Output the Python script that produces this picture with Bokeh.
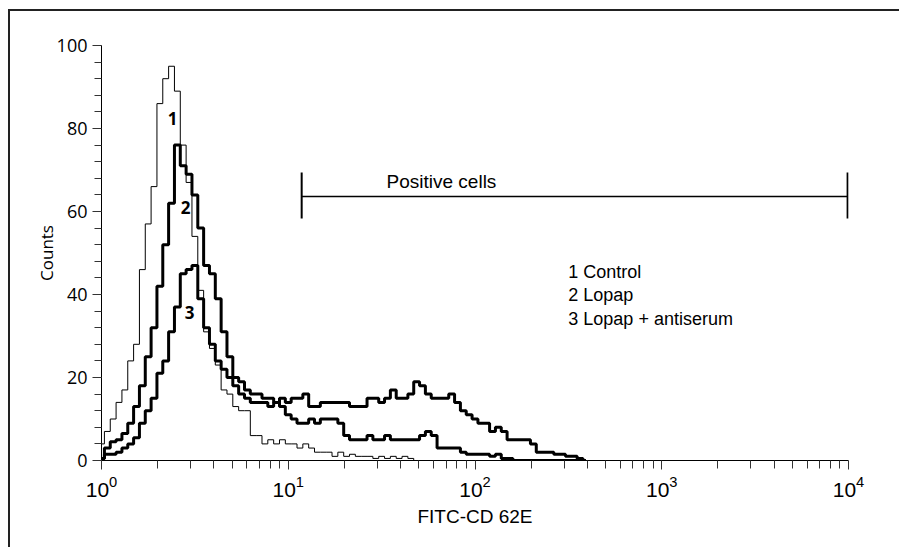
from bokeh.plotting import figure
from bokeh.models import Range1d, FixedTicker, LogTickFormatter
from bokeh.core.properties import value
from bokeh.embed import file_html
from bokeh.resources import INLINE

# ---------------- data ----------------
CHANNELS_PER_DECADE = 32
channel = list(range(84))

control = [4, 7, 10, 14, 17, 24, 28, 46, 57, 66,
           86, 92, 95, 89, 76, 67, 54, 41, 31, 27,
           23, 17, 16, 13, 12, 12, 6, 6, 4, 5,
           4, 5, 4, 4, 3, 4, 3, 2, 2, 2,
           1, 2, 1, 1.5, 1, 1, 1, 0.5, 1, 0.5,
           1, 0.5, 1, 0.5, 0, 0, 0, 0, 0, 0,
           0, 0, 0, 0, 0, 0, 0, 0, 0, 0,
           0, 0, 0, 0, 0, 0, 0, 0, 0, 0,
           0, 0, 0, 0]

lopap = [0.5, 3, 4.5, 5, 6.5, 9, 13, 18, 25, 32,
         42, 52, 62, 76, 71, 69, 64, 56, 47, 45,
         39, 31, 25, 20, 19, 17, 16, 16, 15, 15,
         14, 15, 14, 15, 15, 16, 13, 13, 14, 14,
         14, 14, 14, 13, 13, 13, 15, 15, 14, 15,
         17, 15, 15, 16, 19, 18, 16, 15, 15, 15,
         16, 14, 12, 11, 10, 9, 9, 7, 8, 7,
         5, 5, 5, 5, 4, 2, 2, 2, 1.5, 1.5,
         1, 1, 0.5, 0]

antiserum = [0.5, 1.5, 1.5, 2, 3, 4, 5.5, 9, 12, 15,
             21, 24, 31, 37, 45, 46, 47, 39, 32, 28,
             24, 22, 20, 18, 16, 15, 14, 14, 14, 13,
             14, 13, 11, 10, 9, 9, 10, 9, 10, 10,
             10, 9, 6, 5, 5, 5, 6, 5, 5, 6,
             5, 5, 5, 5, 5, 6, 7, 6, 3, 3,
             3, 3, 2, 1.5, 1.5, 1.5, 1.5, 1, 1.5, 0.5,
             0.5, 0, 0, 0, 0, 0, 0, 0, 0, 0,
             0, 0, 0, 0]

curve_labels = ["1", "2", "3"]
curve_label_x = [2.40, 2.82, 2.96]
curve_label_y = [82.4, 61.0, 35.7]

legend_lines = ["1 Control", "2 Lopap", "3 Lopap + antiserum"]
legend_x = [316, 316, 316]
legend_y = [45.5, 39.8, 34.0]

gate_x = [11.8, 9890]
gate_y = 63.6
gate_cap = [58.3, 69.4]
gate_label = "Positive cells"
gate_label_x = 33.6
gate_label_y = 67.2

x_ticks = [1, 10, 100, 1000, 10000]
y_ticks = [0, 20, 40, 60, 80, 100]
y_minor = list(range(0, 101, 4))
x_minor = [m * d for d in [1, 10, 100, 1000] for m in range(2, 10)]

xs = [10 ** (c / CHANNELS_PER_DECADE) for c in channel]

NARROW = "Liberation Sans"
WIDE = "Open Sans"

p = figure(width=891, height=538, x_axis_type="log",
           x_range=Range1d(1, 10000), y_range=Range1d(0, 100),
           output_backend="svg", toolbar_location=None,
           min_border_left=91, min_border_right=53,
           min_border_top=34, min_border_bottom=89)
p.styles = {"border-top": "2px solid #222", "border-left": "2px solid #222",
            "margin-left": "8px", "margin-top": "9px"}

p.grid.visible = False
p.outline_line_color = None
p.background_fill_color = "white"
p.border_fill_color = "white"

# curves
p.step(xs, control, mode="center", line_color="black", line_width=1)
p.step(xs, lopap, mode="center", line_color="black", line_width=3)
p.step(xs, antiserum, mode="center", line_color="black", line_width=3)

# gate
p.line(gate_x, [gate_y, gate_y], line_color="black", line_width=1.5)
p.segment(x0=gate_x, y0=[gate_cap[0]] * 2, x1=gate_x, y1=[gate_cap[1]] * 2,
          line_color="black", line_width=2)
p.text(x=[gate_label_x], y=[gate_label_y], text=[gate_label],
       text_font=value(NARROW), text_font_size=value("19px"),
       text_baseline="middle", text_align="left", text_color="black")

# curve numbers
p.text(x=curve_label_x, y=curve_label_y, text=curve_labels,
       text_font=value(WIDE), text_font_size=value("17px"), text_font_style="bold",
       text_baseline="middle", text_align="center", text_color="black")

# legend text
p.text(x=legend_x, y=legend_y, text=legend_lines,
       text_font=value(NARROW), text_font_size=value("18px"),
       text_baseline="middle", text_align="left", text_color="black")

# axes
p.xaxis.ticker = FixedTicker(ticks=x_ticks, minor_ticks=x_minor)
p.xaxis.formatter = LogTickFormatter()
p.yaxis.ticker = FixedTicker(ticks=y_ticks, minor_ticks=y_minor)

for ax in (p.xaxis[0], p.yaxis[0]):
    ax.axis_line_color = "black"
    ax.axis_line_width = 1
    ax.major_tick_line_color = "#333"
    ax.minor_tick_line_color = "#333"
    ax.major_tick_in = 0
    ax.minor_tick_in = 0
    ax.major_label_text_color = "black"
    ax.axis_label_text_color = "black"
    ax.axis_label_text_font_style = "normal"

p.xaxis.major_tick_out = 9
p.xaxis.minor_tick_out = 8
p.xaxis.major_label_standoff = 6
p.xaxis.major_label_text_font = NARROW
p.xaxis.major_label_text_font_size = "21px"
p.xaxis.axis_label = "FITC-CD 62E"
p.xaxis.axis_label_text_font = NARROW
p.xaxis.axis_label_text_font_size = "19px"
p.xaxis.axis_label_standoff = 6

p.yaxis.major_tick_out = 9
p.yaxis.minor_tick_out = 7
p.yaxis.major_label_standoff = 5
p.yaxis.major_label_text_font = WIDE
p.yaxis.major_label_text_font_size = "18px"
p.yaxis.axis_label = "Counts"
p.yaxis.axis_label_text_font = WIDE
p.yaxis.axis_label_text_font_size = "17px"
p.yaxis.axis_label_standoff = -4

open("out.html", "w").write(file_html(p, INLINE))
